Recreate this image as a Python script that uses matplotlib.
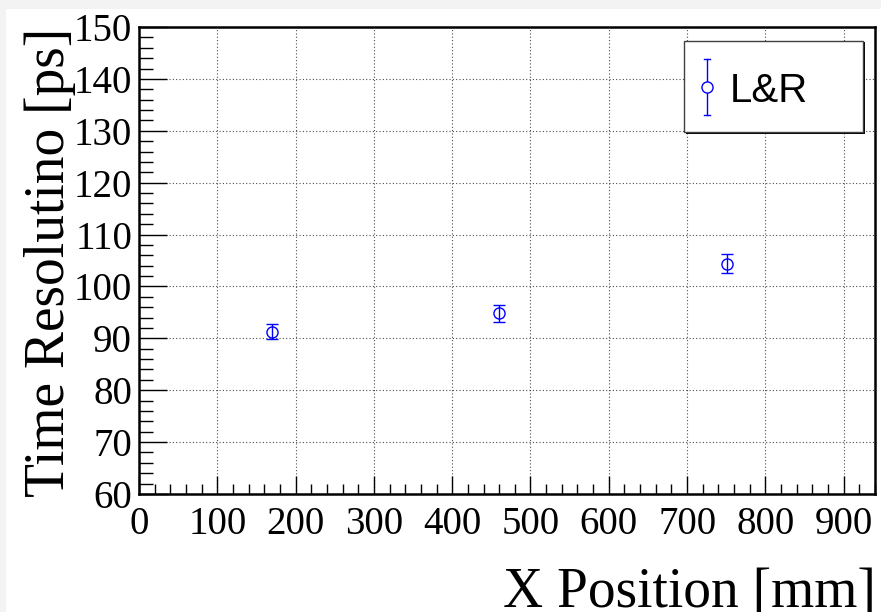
import matplotlib
matplotlib.use("Agg")
import matplotlib.pyplot as plt
from matplotlib.patches import Rectangle
from matplotlib.lines import Line2D
from matplotlib.ticker import MultipleLocator

# Measured time resolution versus hit position
x_pos = [170, 460, 751]
resolution = [91.3, 94.8, 104.4]
resolution_err = [1.5, 1.65, 1.85]
series_label = "L&R"

x_ticks = list(range(0, 1000, 100))
y_ticks = list(range(60, 160, 10))

W, H = 881, 612
fig = plt.figure(figsize=(W / 100, H / 100), dpi=100)
fig.patch.set_facecolor("#f3f3f3")

# white canvas inside the window frame
fig.patches.append(Rectangle((6 / W, 0), 1 - 6 / W, 1 - 9 / H,
                             transform=fig.transFigure, facecolor="white",
                             edgecolor="none", zorder=-5))


def fx(px):
    return px / W


def fy(py):
    return 1 - py / H


ax = fig.add_axes([fx(139), fy(494), (875 - 139) / W, (494 - 27) / H])
ax.set_zorder(1)
ax.patch.set_alpha(0)
ax.set_xlim(0, 940)
ax.set_ylim(60, 150)

ax.set_xticks(x_ticks)
ax.set_yticks(y_ticks)
ax.xaxis.set_minor_locator(MultipleLocator(20))
ax.yaxis.set_minor_locator(MultipleLocator(2))

serif = "Liberation Serif"
ax.tick_params(axis="both", which="both", direction="in", top=False, right=False,
               color="black")
ax.tick_params(axis="x", which="major", length=13, width=1, pad=9,
               labelsize=28)
ax.tick_params(axis="x", which="minor", length=7, width=1)
ax.tick_params(axis="y", which="major", length=20, width=1, pad=5,
               labelsize=28)
ax.tick_params(axis="y", which="minor", length=10, width=1)
for lbl in ax.get_xticklabels() + ax.get_yticklabels():
    lbl.set_family(serif)

for sp in ax.spines.values():
    sp.set_linewidth(1.8)
    sp.set_color("black")

ax.grid(True, which="major", color="0.3", linestyle=(0, (1, 2)), linewidth=0.8)
ax.set_axisbelow(True)

ax.errorbar(x_pos, resolution, yerr=resolution_err, fmt="o", mfc="none",
            mec="blue", color="blue", ms=8, mew=1, elinewidth=1,
            capsize=4, capthick=1, zorder=5)

fig.text(fx(50), fy(28), "Time Resolutino [ps]", rotation=90, ha="center",
         va="top", family=serif, fontsize=40)
fig.text(fx(876), fy(607), "X Position [mm]", ha="right", va="baseline",
         family=serif, fontsize=40)

# legend box with shadow
fig.patches.append(Rectangle((fx(685.5), fy(133.5)), (863 - 684) / W, (132 - 41) / H,
                             transform=fig.transFigure, facecolor="black",
                             edgecolor="none", zorder=6))
fig.patches.append(Rectangle((fx(684), fy(132)), (863 - 684) / W, (132 - 41) / H,
                             transform=fig.transFigure, facecolor="white",
                             edgecolor="0.25", linewidth=1, zorder=7))
fig.lines.append(Line2D([fx(707), fx(707)], [fy(59), fy(115)], color="blue",
                        lw=1, transform=fig.transFigure, zorder=8))
for cy in (59, 115):
    fig.lines.append(Line2D([fx(704), fx(710)], [fy(cy), fy(cy)], color="blue",
                            lw=1, transform=fig.transFigure, zorder=8))
fig.lines.append(Line2D([fx(707)], [fy(87)], marker="o", ms=8, mfc="white",
                        mec="blue", mew=1, transform=fig.transFigure, zorder=9))
fig.text(fx(730), fy(101.5), series_label, ha="left", va="baseline",
         family="Liberation Sans", fontsize=29, zorder=9)

fig.savefig("out.png", dpi=100, facecolor=fig.get_facecolor())
